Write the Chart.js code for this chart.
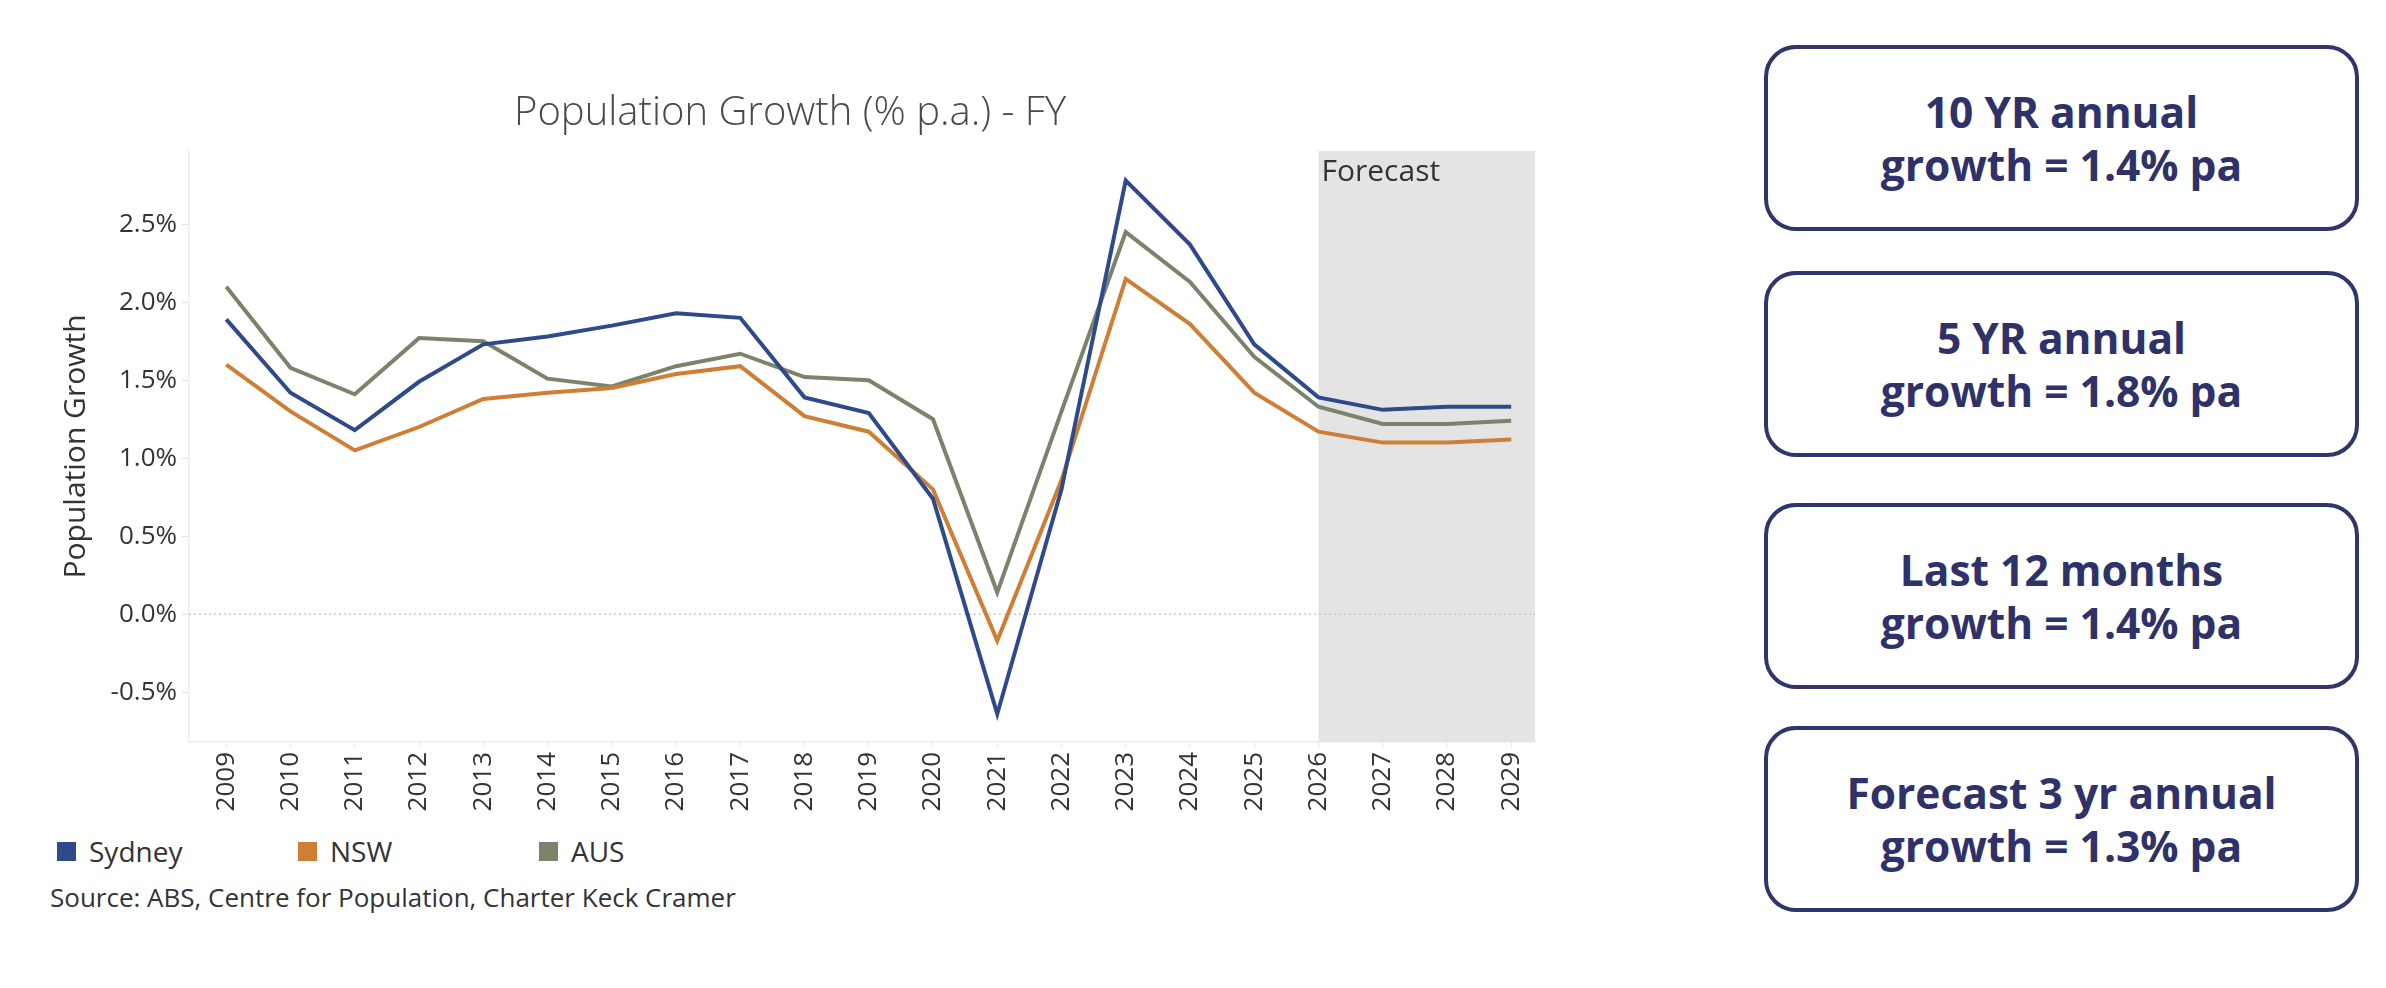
<!DOCTYPE html>
<html>
<head>
<meta charset="utf-8">
<script src="https://cdn.jsdelivr.net/npm/chart.js@4.4.1/dist/chart.umd.min.js"></script>
<style>
    body { margin: 0; background: #fff; width: 2386px; height: 988px; position: relative; overflow: hidden; font-family: "Open Sans", sans-serif; }
    #chartWrap { position: absolute; left: 0; top: 0; width: 1580px; height: 830px; }
    #legend { position: absolute; left: 0; top: 836px; width: 1000px; height: 30px; }
    .leg-item { position: absolute; top: 0; height: 30px; display: flex; align-items: center; font-size: 28px; color: #333; }
    .leg-box { width: 19px; height: 19px; margin-right: 13px; }
    #source { position: absolute; left: 50px; top: 879px; font-size: 26px; color: #333; }
    .stat-box { position: absolute; left: 1764px; width: 587px; height: 178px; border: 4px solid #30356b; border-radius: 32px;
        display: flex; flex-direction: column; justify-content: center; align-items: center;
        font-family: "Open Sans", sans-serif; font-weight: 700; font-size: 42.5px; line-height: 53px; color: #2e3269; text-align: center; }
</style>
</head>
<body>
<div id="chartWrap"><canvas id="popChart" width="1580" height="830"></canvas></div>
<div id="legend"></div>
<div id="source">Source: ABS, Centre for Population, Charter Keck Cramer</div>
<div id="boxes"></div>

<script>
// years and series (% p.a.)
const years = [2009, 2010, 2011, 2012, 2013, 2014, 2015, 2016, 2017, 2018, 2019, 2020, 2021, 2022, 2023, 2024, 2025, 2026, 2027, 2028, 2029];
const sydney = [1.89, 1.42, 1.18, 1.49, 1.73, 1.78, 1.85, 1.93, 1.90, 1.39, 1.29, 0.74, -0.64, 0.80, 2.78, 2.37, 1.73, 1.39, 1.31, 1.33, 1.33];
const nsw = [1.60, 1.30, 1.05, 1.20, 1.38, 1.42, 1.45, 1.54, 1.59, 1.27, 1.17, 0.80, -0.17, 0.86, 2.15, 1.86, 1.42, 1.17, 1.10, 1.10, 1.12];
const aus = [2.10, 1.58, 1.41, 1.77, 1.75, 1.51, 1.46, 1.59, 1.67, 1.52, 1.50, 1.25, 0.14, 1.30, 2.45, 2.13, 1.65, 1.33, 1.22, 1.22, 1.24];
const seriesNames = ['Sydney', 'NSW', 'AUS'];
const seriesColors = ['#2f4a8a', '#cf7e35', '#7b846a'];
const yTicks = [-0.5, 0, 0.5, 1.0, 1.5, 2.0, 2.5];
const forecastStart = 2026;

// right hand stat boxes
const statLines = [
    ['10 YR annual', 'growth = 1.4% pa'],
    ['5 YR annual', 'growth = 1.8% pa'],
    ['Last 12 months', 'growth = 1.4% pa'],
    ['Forecast 3 yr annual', 'growth = 1.3% pa']
];
const statTops = [45, 271, 503, 726];

const toPoints = arr => arr.map((v, i) => ({ x: years[i], y: v }));

// shaded forecast area + dotted zero line
const extrasPlugin = {
    id: 'extras',
    beforeDatasetsDraw(chart) {
        const { ctx, chartArea, scales } = chart;
        const xStart = scales.x.getPixelForValue(forecastStart);
        ctx.save();
        ctx.fillStyle = '#e4e4e4';
        ctx.fillRect(xStart, chartArea.top, chartArea.right - xStart, chartArea.bottom - chartArea.top);
        ctx.fillStyle = '#333';
        ctx.font = '30px "Open Sans", sans-serif';
        ctx.textBaseline = 'top';
        ctx.fillText('Forecast', xStart + 3, chartArea.top + 6);

        const y0 = scales.y.getPixelForValue(0);
        ctx.strokeStyle = '#c8c8c8';
        ctx.lineWidth = 1.5;
        ctx.setLineDash([2, 3]);
        ctx.beginPath();
        ctx.moveTo(chartArea.left, y0);
        ctx.lineTo(chartArea.right, y0);
        ctx.stroke();
        ctx.restore();
    }
};

const ctx = document.getElementById('popChart').getContext('2d');
const popChart = new Chart(ctx, {
    type: 'line',
    data: {
        datasets: [sydney, nsw, aus].map((arr, i) => ({
            label: seriesNames[i],
            data: toPoints(arr),
            borderColor: seriesColors[i],
            backgroundColor: seriesColors[i],
            borderWidth: 4,
            pointRadius: 0,
            tension: 0
        }))
    },
    options: {
        responsive: false,
        animation: false,
        devicePixelRatio: 1,
        layout: { padding: { left: 45, right: 45, top: 0, bottom: 0 } },
        plugins: {
            legend: { display: false },
            tooltip: { enabled: false },
            title: {
                display: true,
                text: 'Population Growth (% p.a.) - FY',
                color: '#4a4a4a',
                font: { family: '"Open Sans", sans-serif', size: 40, weight: '300' },
                padding: { top: 90, bottom: 13 }
            }
        },
        scales: {
            x: {
                type: 'linear',
                min: 2008.42,
                max: 2029.37,
                afterBuildTicks: scale => { scale.ticks = years.map(v => ({ value: v })); },
                afterFit: scale => { scale.height = 88; },
                grid: { drawOnChartArea: false, tickLength: 5, tickColor: '#e3e3e3' },
                border: { color: '#ececec', width: 1.5 },
                ticks: {
                    minRotation: 90,
                    maxRotation: 90,
                    padding: 5,
                    color: '#333',
                    font: { family: '"Open Sans", sans-serif', size: 26 },
                    callback: v => String(v)
                }
            },
            y: {
                min: -0.82,
                max: 2.97,
                afterBuildTicks: scale => { scale.ticks = yTicks.map(v => ({ value: v })); },
                afterFit: scale => { scale.width = 144; },
                grid: { drawOnChartArea: false, tickLength: 7, tickColor: '#e3e3e3' },
                border: { color: '#ececec', width: 1.5 },
                ticks: {
                    padding: 5,
                    color: '#333',
                    font: { family: '"Open Sans", sans-serif', size: 26 },
                    callback: v => v.toFixed(1) + '%'
                },
                title: {
                    display: true,
                    text: 'Population Growth',
                    color: '#333',
                    font: { family: '"Open Sans", sans-serif', size: 30 },
                    padding: { top: 13, bottom: 0 }
                }
            }
        }
    },
    plugins: [extrasPlugin]
});

// legend built from the datasets
const legendEl = document.getElementById('legend');
const legendLeft = [57, 298, 539];
popChart.data.datasets.forEach((ds, i) => {
    const item = document.createElement('div');
    item.className = 'leg-item';
    item.style.left = legendLeft[i] + 'px';
    item.innerHTML = '<span class="leg-box" style="background:' + ds.borderColor + '"></span>' + ds.label;
    legendEl.appendChild(item);
});

// stat boxes
const boxesEl = document.getElementById('boxes');
statLines.forEach((lines, i) => {
    const box = document.createElement('div');
    box.className = 'stat-box';
    box.style.top = statTops[i] + 'px';
    box.innerHTML = lines.map(t => '<div>' + t + '</div>').join('');
    boxesEl.appendChild(box);
});
</script>
</body>
</html>
